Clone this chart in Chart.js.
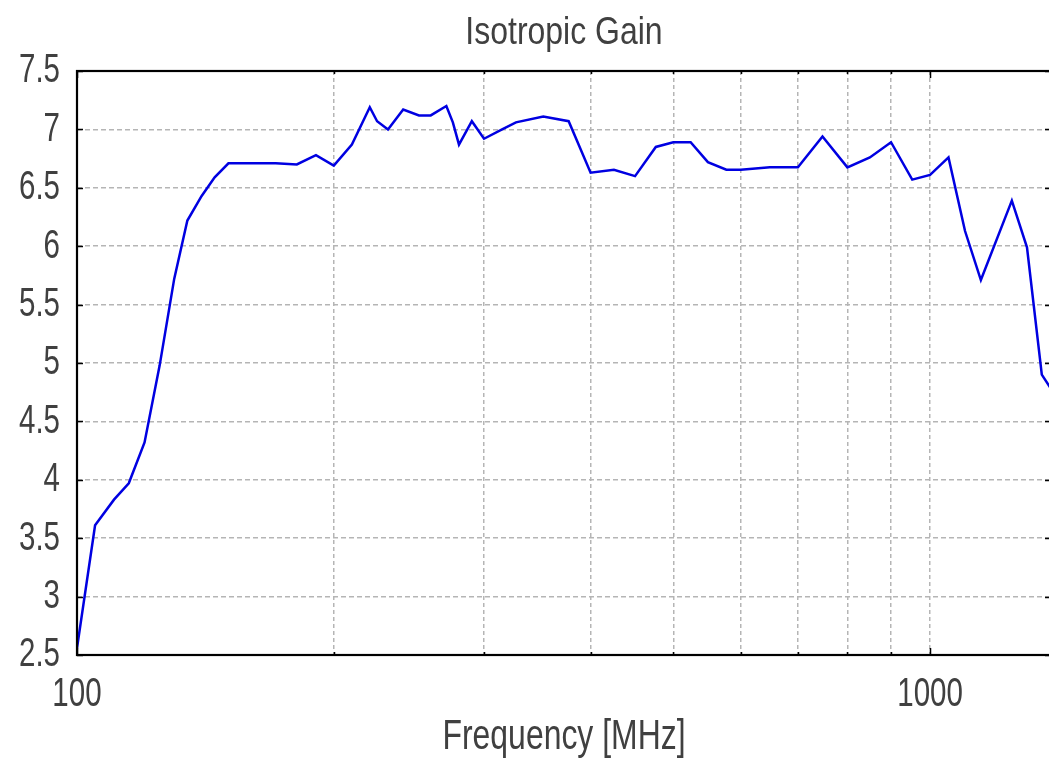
<!DOCTYPE html>
<html>
<head>
<meta charset="utf-8">
<script src="https://cdn.jsdelivr.net/npm/chart.js@4.4.1/dist/chart.umd.min.js"></script>
<style>
  html, body { margin: 0; padding: 0; background: #ffffff; overflow: hidden; }
  #wrap { position: relative; width: 1051px; height: 760px; }
</style>
</head>
<body>
<div id="wrap"><canvas id="c"></canvas></div>
<script>
// ---- data ----
const frequencies = [100, 105, 110.5, 115, 120, 125, 130, 134.7, 140, 145, 150.5, 171, 181, 190.6, 200,
  210, 220.4, 224.8, 231.5, 241.2, 251.7, 259.8, 271, 275.8, 280.4, 290.3, 300, 315, 327, 352, 377,
  400, 426, 451, 477, 500, 524, 549, 577, 600, 649, 700, 748, 800, 850, 900, 953, 1000, 1051, 1099,
  1147, 1247, 1299, 1352, 1386];
const gainValues = [2.56, 3.61, 3.83, 3.97, 4.32, 4.98, 5.72, 6.22, 6.43, 6.59, 6.71, 6.71, 6.70, 6.78, 6.69,
  6.87, 7.19, 7.07, 7.00, 7.17, 7.12, 7.12, 7.20, 7.06, 6.87, 7.07, 6.92, 7.00, 7.06, 7.11, 7.07,
  6.63, 6.655, 6.60, 6.85, 6.89, 6.89, 6.72, 6.655, 6.655, 6.675, 6.675, 6.94, 6.675, 6.76, 6.89, 6.57, 6.61, 6.76, 6.13,
  5.71, 6.39, 5.99, 4.90, 4.78];
const xTickValues = [100, 200, 300, 400, 500, 600, 700, 800, 900, 1000];
const xMajorTicks = [100, 1000];
const xRange = [100, 1386];
const yRange = [2.5, 7.5];
const yStep = 0.5;
const chartTitle = 'Isotropic Gain';
const xAxisTitle = 'Frequency [MHz]';

const FONT = "'Liberation Sans', Arial, sans-serif";
const TEXT = '#404040';
const TITLE_SIZE = 39, TICK_SIZE = 41, AXIS_TITLE_SIZE = 42;
// horizontal squeeze per text size, to imitate the reference's condensed lettering
const squeeze = { [TITLE_SIZE]: 0.82, [TICK_SIZE]: 0.72, [AXIS_TITLE_SIZE]: 0.76 };

const canvas = document.getElementById('c');
const ctx2d = canvas.getContext('2d');
const nativeFill = CanvasRenderingContext2D.prototype.fillText;
ctx2d.fillText = function (text, x, y, maxWidth) {
  const m = /(\d+(?:\.\d+)?)px/.exec(this.font);
  const sx = m ? (squeeze[parseFloat(m[1])] || 1) : 1;
  if (sx === 1) {
    return maxWidth === undefined ? nativeFill.call(this, text, x, y) : nativeFill.call(this, text, x, y, maxWidth);
  }
  this.save();
  this.translate(x, y);
  this.scale(sx, 1);
  nativeFill.call(this, text, 0, 0);
  this.restore();
};

const points = frequencies.map((f, i) => ({ x: f, y: gainValues[i] }));

// frame + inward tick marks, drawn through the scales
const framePlugin = {
  id: 'frame',
  afterDatasetsDraw(chart) {
    const { ctx, chartArea: a, scales: { x, y } } = chart;
    ctx.save();
    ctx.strokeStyle = '#000';
    ctx.lineWidth = 1.5;
    ctx.beginPath();
    xTickValues.forEach(v => {
      const px = Math.round(x.getPixelForValue(v)) + 0.5;
      const len = xMajorTicks.includes(v) ? 7 : 3;
      ctx.moveTo(px, a.bottom); ctx.lineTo(px, a.bottom - len);
      ctx.moveTo(px, a.top); ctx.lineTo(px, a.top + len);
    });
    for (let v = yRange[0]; v <= yRange[1] + 1e-9; v += yStep) {
      const py = Math.round(y.getPixelForValue(v)) + 0.5;
      ctx.moveTo(a.left, py); ctx.lineTo(a.left + 6, py);
      ctx.moveTo(a.right, py); ctx.lineTo(a.right - 6, py);
    }
    ctx.stroke();
    ctx.lineWidth = 2.2;
    ctx.strokeRect(a.left, a.top, a.right - a.left, a.bottom - a.top);
    ctx.restore();
  }
};

new Chart(canvas, {
  type: 'line',
  data: {
    datasets: [{
      data: points,
      borderColor: 'rgb(0, 0, 225)',
      borderWidth: 2.5,
      pointRadius: 0,
      tension: 0,
      fill: false
    }]
  },
  options: {
    responsive: true,
    maintainAspectRatio: false,
    animation: false,
    layout: { padding: { top: 0, left: 0, right: 0, bottom: 0 } },
    plugins: {
      legend: { display: false },
      tooltip: { enabled: false },
      title: {
        display: true,
        fullSize: false,
        text: chartTitle,
        color: TEXT,
        font: { family: FONT, size: TITLE_SIZE, weight: 'normal', lineHeight: 1.2 },
        padding: { top: 9.5, bottom: 14.7 }
      }
    },
    scales: {
      x: {
        type: 'logarithmic',
        min: xRange[0],
        max: xRange[1],
        afterBuildTicks(scale) { scale.ticks = xTickValues.map(v => ({ value: v })); },
        afterFit(scale) { scale.height = 105; },
        ticks: {
          autoSkip: false,
          maxRotation: 0,
          padding: 15,
          color: TEXT,
          font: { family: FONT, size: TICK_SIZE, lineHeight: 1.2 },
          callback: (v) => xMajorTicks.includes(v) ? String(v) : ''
        },
        grid: { color: '#b5b5b5', lineWidth: 1.5, drawTicks: false },
        border: { display: false, dash: [4, 3] },
        title: {
          display: true,
          text: xAxisTitle,
          color: TEXT,
          font: { family: FONT, size: AXIS_TITLE_SIZE, lineHeight: 1.0 },
          padding: { top: 0, bottom: 2 }
        }
      },
      y: {
        min: yRange[0],
        max: yRange[1],
        afterFit(scale) { scale.width = 77; },
        ticks: {
          stepSize: yStep,
          padding: 17,
          color: TEXT,
          font: { family: FONT, size: TICK_SIZE, lineHeight: 1.2 },
          callback: (v) => String(Number(v.toFixed(1)))
        },
        grid: { color: '#b5b5b5', lineWidth: 1.5, drawTicks: false },
        border: { display: false, dash: [5, 3] }
      }
    }
  },
  plugins: [framePlugin]
});
</script>
</body>
</html>
